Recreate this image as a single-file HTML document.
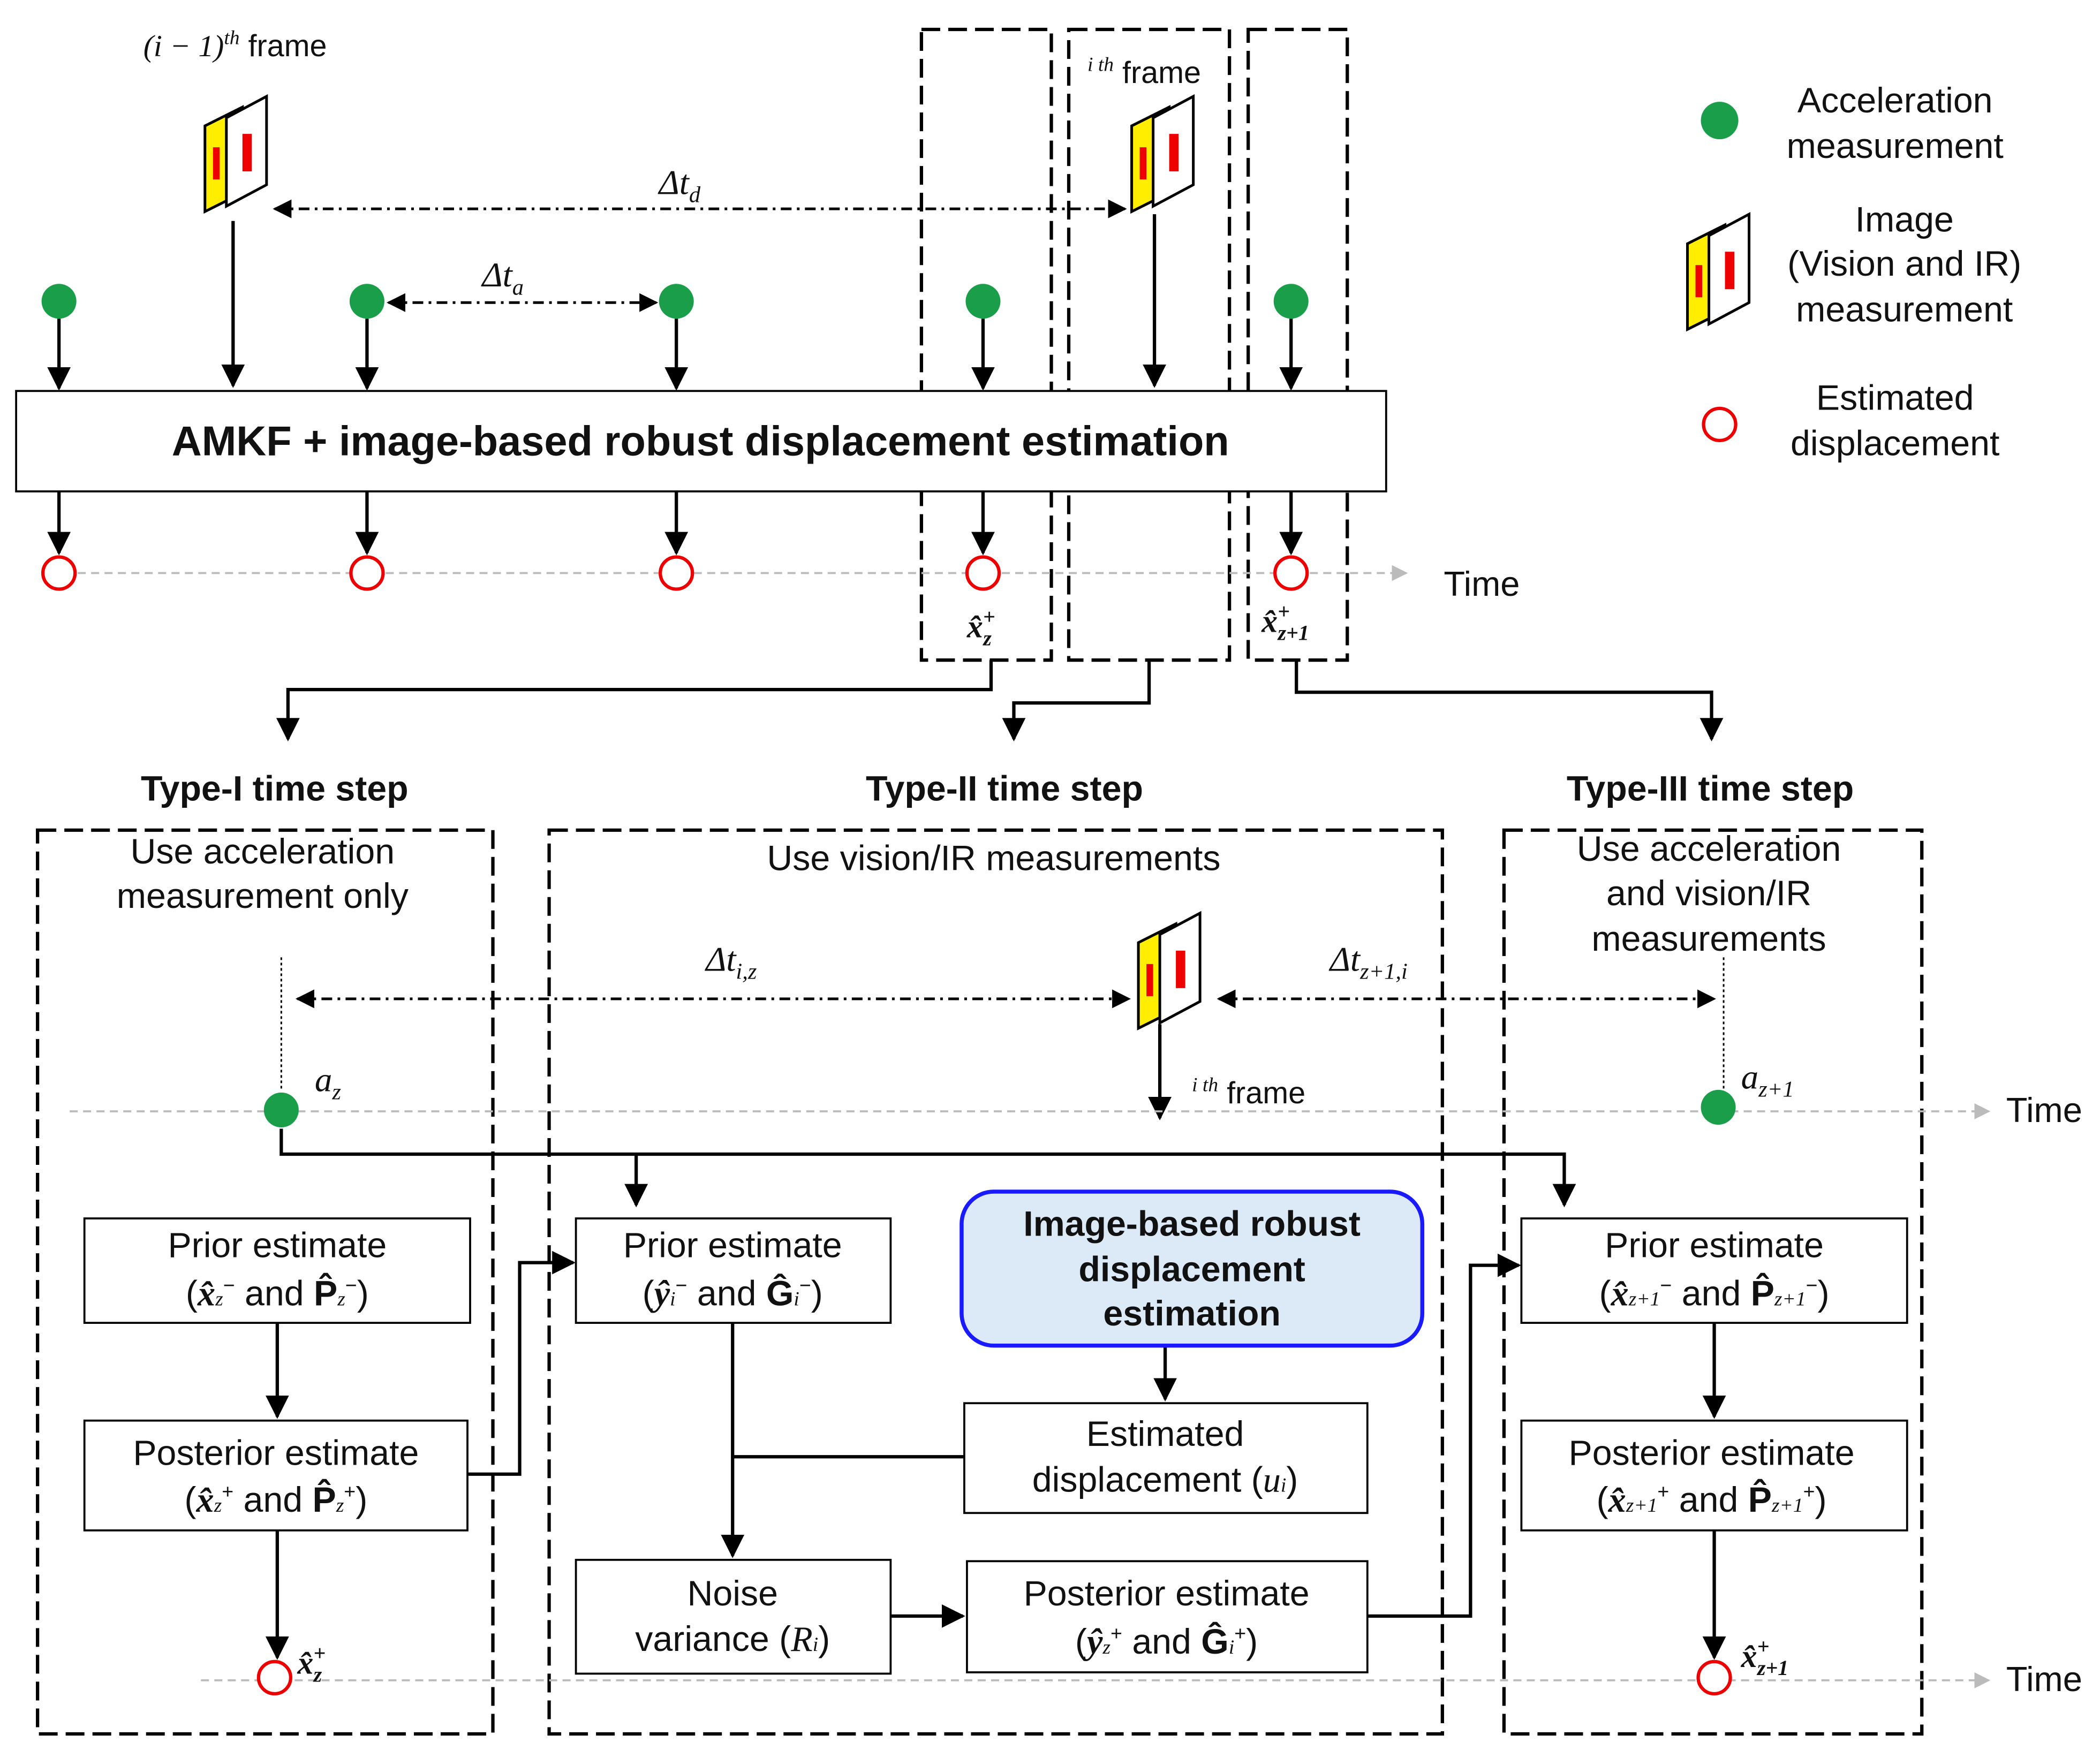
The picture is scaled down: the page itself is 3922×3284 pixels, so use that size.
<!DOCTYPE html>
<html><head><meta charset="utf-8"><style>
html,body{margin:0;padding:0;background:#fff;}
svg{display:block;}
text{font-family:"Liberation Sans",sans-serif;fill:#111;}
.m{font-family:"Liberation Serif",serif;font-style:italic;}
.b{font-weight:bold;}
</style></head><body>
<svg width="3922" height="3284" viewBox="0 0 1568 1313" xmlns="http://www.w3.org/2000/svg">
<defs>
<marker id="a" viewBox="0 0 10 10" refX="9" refY="5" markerWidth="7" markerHeight="7" orient="auto-start-reverse"><path d="M0,0L10,5L0,10z" fill="#000"/></marker>
<marker id="g" viewBox="0 0 10 10" refX="9" refY="5" markerWidth="8" markerHeight="8" orient="auto"><path d="M0,0L10,5L0,10z" fill="#bbb"/></marker>
<g id="ic">
<polygon points="0,22 28,8 28,72 0,86" fill="#ffee00" stroke="#000" stroke-width="2"/>
<polygon points="16,16 46,0 46,66 16,82" fill="#fff" stroke="#000" stroke-width="2"/>
<rect x="6" y="38" width="5" height="24" fill="#e00"/>
<rect x="28" y="28" width="7" height="28" fill="#e00"/>
</g>
</defs>
<rect width="1568" height="1313" fill="#fff"/>
<g fill="none" stroke="#000" stroke-width="2.5" stroke-dasharray="14,6">
<rect x="688" y="22" width="97" height="471"/>
<rect x="798" y="22" width="120" height="471"/>
<rect x="932" y="22" width="74" height="471"/>
<rect x="28" y="620" width="340" height="675"/>
<rect x="410" y="620" width="667" height="675"/>
<rect x="1123" y="620" width="312" height="675"/>
</g>
<text x="107" y="42" font-size="23"><tspan class="m">(i − 1)</tspan><tspan class="m" font-size="15" dy="-9">th</tspan><tspan dy="9"> frame</tspan></text>
<use href="#ic" x="153" y="72"/>
<text x="812" y="62" font-size="23"><tspan class="m" font-size="15" dy="-9">i th</tspan><tspan dy="9"> frame</tspan></text>
<use href="#ic" x="845" y="72"/>
<g stroke="#000" stroke-width="2" stroke-dasharray="8,4,2,4" fill="none">
<line x1="205" y1="156" x2="840" y2="156" marker-start="url(#a)" marker-end="url(#a)"/>
<line x1="290" y1="226" x2="490" y2="226" marker-start="url(#a)" marker-end="url(#a)"/>
<line x1="222" y1="746" x2="843" y2="746" marker-start="url(#a)" marker-end="url(#a)"/>
<line x1="910" y1="746" x2="1280" y2="746" marker-start="url(#a)" marker-end="url(#a)"/>
</g>
<text x="492" y="145" font-size="26"><tspan class="m">Δt</tspan><tspan class="m" font-size="17" dy="6">d</tspan></text>
<text x="360" y="214" font-size="26"><tspan class="m">Δt</tspan><tspan class="m" font-size="17" dy="6">a</tspan></text>
<text x="527" y="725" font-size="26"><tspan class="m">Δt</tspan><tspan class="m" font-size="17" dy="6">i,z</tspan></text>
<text x="993" y="725" font-size="26"><tspan class="m">Δt</tspan><tspan class="m" font-size="17" dy="6">z+1,i</tspan></text>
<g stroke="#000" stroke-width="2.5" fill="none" marker-end="url(#a)">
<line x1="44" y1="238" x2="44" y2="290"/><line x1="274" y1="238" x2="274" y2="290"/>
<line x1="505" y1="238" x2="505" y2="290"/><line x1="734" y1="238" x2="734" y2="290"/>
<line x1="964" y1="238" x2="964" y2="290"/>
<line x1="174" y1="165" x2="174" y2="288"/><line x1="862" y1="160" x2="862" y2="288"/>
<line x1="44" y1="367" x2="44" y2="413"/><line x1="274" y1="367" x2="274" y2="413"/>
<line x1="505" y1="367" x2="505" y2="413"/><line x1="734" y1="367" x2="734" y2="413"/>
<line x1="964" y1="367" x2="964" y2="413"/>
<polyline points="740,493 740,515 215,515 215,552"/>
<polyline points="858,493 858,525 757,525 757,552"/>
<polyline points="968,493 968,517 1278,517 1278,552"/>
<line x1="866" y1="765" x2="866" y2="835"/>
<polyline points="210,843 210,862 1168,862 1168,900"/>
<line x1="475" y1="862" x2="475" y2="900"/>
<line x1="207" y1="988" x2="207" y2="1058"/>
<line x1="207" y1="1143" x2="207" y2="1238"/>
<polyline points="349,1101 388,1101 388,943 428,943"/>
<line x1="547" y1="988" x2="547" y2="1162"/>
<line x1="870" y1="1005" x2="870" y2="1045"/>
<line x1="665" y1="1207" x2="719" y2="1207"/>
<polyline points="1021,1207 1098,1207 1098,945 1134,945"/>
<line x1="1280" y1="988" x2="1280" y2="1058"/>
<line x1="1280" y1="1143" x2="1280" y2="1238"/>
</g>
<line x1="547" y1="1088" x2="720" y2="1088" stroke="#000" stroke-width="2.5"/>
<g stroke="#bbb" stroke-width="1.5" stroke-dasharray="6,4" fill="none">
<line x1="58" y1="428" x2="1050" y2="428" marker-end="url(#g)"/>
<line x1="52" y1="830" x2="1485" y2="830" marker-end="url(#g)"/>
<line x1="150" y1="1255" x2="1485" y2="1255" marker-end="url(#g)"/>
</g>
<line x1="210" y1="715" x2="210" y2="815" stroke="#000" stroke-width="1.2" stroke-dasharray="2,2"/>
<line x1="1287" y1="715" x2="1287" y2="815" stroke="#000" stroke-width="1.2" stroke-dasharray="2,2"/>
<text x="1078" y="445" font-size="26">Time</text>
<text x="1498" y="838" font-size="26">Time</text>
<text x="1498" y="1263" font-size="26">Time</text>
<rect x="12" y="292" width="1023" height="75" fill="#fff" stroke="#000" stroke-width="1.5"/>
<text x="523" y="340" font-size="31" class="b" text-anchor="middle">AMKF + image-based robust displacement estimation</text>
<g fill="#1a9e4a">
<circle cx="44" cy="225" r="13"/><circle cx="274" cy="225" r="13"/><circle cx="505" cy="225" r="13"/>
<circle cx="734" cy="225" r="13"/><circle cx="964" cy="225" r="13"/>
<circle cx="210" cy="829" r="13"/><circle cx="1283" cy="827" r="13"/><circle cx="1284" cy="90" r="14"/>
</g>
<g fill="#fff" stroke="#e00" stroke-width="2.5">
<circle cx="44" cy="428" r="12"/><circle cx="274" cy="428" r="12"/><circle cx="505" cy="428" r="12"/>
<circle cx="734" cy="428" r="12"/><circle cx="964" cy="428" r="12"/>
<circle cx="205" cy="1253" r="12"/><circle cx="1280" cy="1253" r="12"/><circle cx="1284" cy="317" r="12"/>
</g>
<text x="722" y="476" font-size="24" class="m b">x̂<tspan font-size="16" dy="-10">+</tspan><tspan font-size="16" dx="-9" dy="16">z</tspan></text>
<text x="942" y="472" font-size="24" class="m b">x̂<tspan font-size="16" dy="-10">+</tspan><tspan font-size="16" dx="-9" dy="16">z+1</tspan></text>
<text x="222" y="1250" font-size="24" class="m b">x̂<tspan font-size="16" dy="-10">+</tspan><tspan font-size="16" dx="-9" dy="16">z</tspan></text>
<text x="1300" y="1245" font-size="24" class="m b">x̂<tspan font-size="16" dy="-10">+</tspan><tspan font-size="16" dx="-9" dy="16">z+1</tspan></text>
<text x="235" y="815" font-size="26" class="m">a<tspan font-size="17" dy="6">z</tspan></text>
<text x="1300" y="813" font-size="26" class="m">a<tspan font-size="17" dy="6">z+1</tspan></text>
<text x="890" y="824" font-size="23"><tspan class="m" font-size="15" dy="-9">i th</tspan><tspan dy="9"> frame</tspan></text>
<use href="#ic" x="850" y="682"/>
<use href="#ic" x="1260" y="160"/>
<g font-size="26.5" text-anchor="middle">
<text x="1415" y="84">Acceleration</text><text x="1415" y="118">measurement</text>
<text x="1422" y="173">Image</text><text x="1422" y="206">(Vision and IR)</text><text x="1422" y="240">measurement</text>
<text x="1415" y="306">Estimated</text><text x="1415" y="340">displacement</text>
<text x="205" y="598" class="b">Type-I time step</text>
<text x="750" y="598" class="b">Type-II time step</text>
<text x="1277" y="598" class="b">Type-III time step</text>
<text x="196" y="645">Use acceleration</text><text x="196" y="678">measurement only</text>
<text x="742" y="650">Use vision/IR measurements</text>
<text x="1276" y="643">Use acceleration</text><text x="1276" y="676">and vision/IR</text><text x="1276" y="710">measurements</text>
</g>
<g fill="#fff" stroke="#000" stroke-width="1.5">
<rect x="63" y="910" width="288" height="78"/><rect x="63" y="1061" width="286" height="82"/>
<rect x="430" y="910" width="235" height="78"/><rect x="720" y="1048" width="301" height="82"/>
<rect x="430" y="1165" width="235" height="85"/><rect x="722" y="1166" width="299" height="83"/>
<rect x="1136" y="910" width="288" height="78"/><rect x="1136" y="1061" width="288" height="82"/>
</g>
<rect x="718" y="890" width="344" height="115" rx="24" fill="#dce9f7" stroke="#1a1aff" stroke-width="3"/>
<g font-size="26.5" text-anchor="middle">
<text x="207" y="939">Prior estimate</text>
<text x="207" y="975"><tspan>(</tspan><tspan class="m b">x̂</tspan><tspan font-size="15" class="m">z</tspan><tspan font-size="15" dy="-10">−</tspan><tspan dy="10"> and </tspan><tspan class="b">P̂</tspan><tspan font-size="15" class="m">z</tspan><tspan font-size="15" dy="-10">−</tspan><tspan dy="10">)</tspan></text>
<text x="206" y="1094">Posterior estimate</text>
<text x="206" y="1129"><tspan>(</tspan><tspan class="m b">x̂</tspan><tspan font-size="15" class="m">z</tspan><tspan font-size="15" dy="-10">+</tspan><tspan dy="10"> and </tspan><tspan class="b">P̂</tspan><tspan font-size="15" class="m">z</tspan><tspan font-size="15" dy="-10">+</tspan><tspan dy="10">)</tspan></text>
<text x="547" y="939">Prior estimate</text>
<text x="547" y="975"><tspan>(</tspan><tspan class="m b">ŷ</tspan><tspan font-size="15" class="m">i</tspan><tspan font-size="15" dy="-10">−</tspan><tspan dy="10"> and </tspan><tspan class="b">Ĝ</tspan><tspan font-size="15" class="m">i</tspan><tspan font-size="15" dy="-10">−</tspan><tspan dy="10">)</tspan></text>
<text x="890" y="923" class="b">Image-based robust</text>
<text x="890" y="957" class="b">displacement</text>
<text x="890" y="990" class="b">estimation</text>
<text x="870" y="1080">Estimated</text>
<text x="870" y="1114">displacement (<tspan class="m">u</tspan><tspan font-size="15" class="m">i</tspan>)</text>
<text x="547" y="1199">Noise</text>
<text x="547" y="1233">variance (<tspan class="m">R</tspan><tspan font-size="15" class="m">i</tspan>)</text>
<text x="871" y="1199">Posterior estimate</text>
<text x="871" y="1235"><tspan>(</tspan><tspan class="m b">ŷ</tspan><tspan font-size="15" class="m">z</tspan><tspan font-size="15" dy="-10">+</tspan><tspan dy="10"> and </tspan><tspan class="b">Ĝ</tspan><tspan font-size="15" class="m">i</tspan><tspan font-size="15" dy="-10">+</tspan><tspan dy="10">)</tspan></text>
<text x="1280" y="939">Prior estimate</text>
<text x="1280" y="975"><tspan>(</tspan><tspan class="m b">x̂</tspan><tspan font-size="15" class="m">z+1</tspan><tspan font-size="15" dy="-10">−</tspan><tspan dy="10"> and </tspan><tspan class="b">P̂</tspan><tspan font-size="15" class="m">z+1</tspan><tspan font-size="15" dy="-10">−</tspan><tspan dy="10">)</tspan></text>
<text x="1278" y="1094">Posterior estimate</text>
<text x="1278" y="1129"><tspan>(</tspan><tspan class="m b">x̂</tspan><tspan font-size="15" class="m">z+1</tspan><tspan font-size="15" dy="-10">+</tspan><tspan dy="10"> and </tspan><tspan class="b">P̂</tspan><tspan font-size="15" class="m">z+1</tspan><tspan font-size="15" dy="-10">+</tspan><tspan dy="10">)</tspan></text>
</g>
</svg>
</body></html>
